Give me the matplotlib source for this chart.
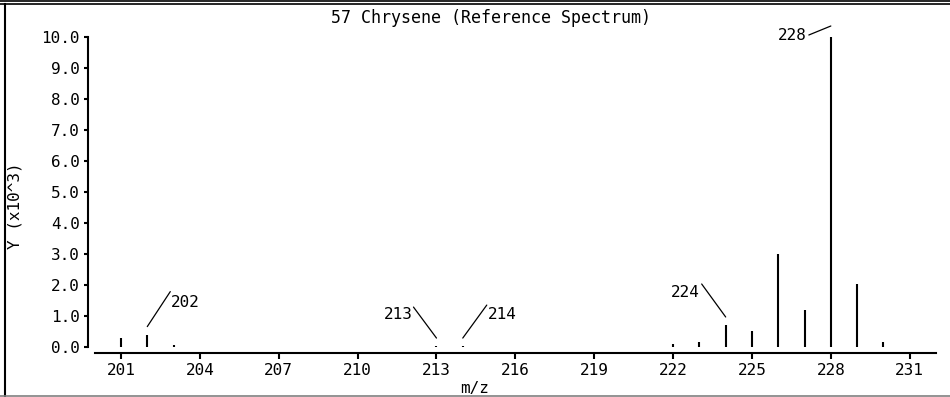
import matplotlib

matplotlib.use("Agg")
import matplotlib.pyplot as plt
from matplotlib.lines import Line2D
from matplotlib.transforms import offset_copy

# %% Data (intensity in units of 10^3)
mz = [201, 202, 203, 213, 214, 222, 223, 224, 225, 226, 227, 228, 229, 230]
intensity = [0.28, 0.40, 0.07, 0.03, 0.03, 0.10, 0.15, 0.71, 0.53, 3.0, 1.19, 10.0, 2.02, 0.15]

labeled_peaks = [202, 213, 214, 224, 228]
x_ticks = [201, 204, 207, 210, 213, 216, 219, 222, 225, 228, 231]
y_ticks = [0, 1, 2, 3, 4, 5, 6, 7, 8, 9, 10]

# label geometry in pixels: (gap above peak, line dx, line dy, text dx, text dy, ha)
label_style = {
    202: (8, 23, 35, 24, 32, "left"),
    213: (8, -23, 31, -24, 32, "right"),
    214: (8, 24, 33, 25, 32, "left"),
    224: (8, -24, 33, -26, 32, "right"),
    228: (11, -22, -9, -24, 1, "right"),
}

# %% Plot
W, H = 950, 397
fig = plt.figure(figsize=(W / 100, H / 100), dpi=100)
plt.rcParams["font.family"] = "DejaVu Sans Mono"

ax = fig.add_axes([94.7 / W, 50 / H, (936 - 94.7) / W, 310 / H])
ax.vlines(mz, 0, intensity, color="black", lw=1.5)
ax.set_xlim(200, 232)
ax.set_ylim(0, 10)

for s in ["top", "right"]:
    ax.spines[s].set_visible(False)
ax.spines["left"].set_position(("outward", 4.7))
ax.spines["bottom"].set_position(("outward", 4.3))
ax.spines["left"].set_bounds(0, 10)
for s in ["left", "bottom"]:
    ax.spines[s].set_linewidth(1.5)

ax.set_xticks(x_ticks)
ax.set_xticklabels([str(t) for t in x_ticks])
ax.set_yticks(y_ticks)
ax.set_yticklabels([f"{t:.1f}" for t in y_ticks])
ax.tick_params(axis="y", direction="out", length=3, width=1.5, pad=3, labelsize=11.5)
ax.tick_params(axis="x", direction="out", length=4, width=1.5, pad=3, labelsize=11.5)

for m in labeled_peaks:
    h = intensity[mz.index(m)]
    gap, ldx, ldy, tdx, tdy, ha = label_style[m]
    start = offset_copy(ax.transData, fig=fig, x=0, y=gap, units="dots")
    end = offset_copy(ax.transData, fig=fig, x=ldx, y=gap + ldy, units="dots")
    ax.annotate(
        "", xy=(m, h), xycoords=start, xytext=(m, h), textcoords=end,
        arrowprops=dict(arrowstyle="-", lw=0.9, color="black", shrinkA=0, shrinkB=0),
    )
    ax.annotate(
        str(m), xy=(m, h), xytext=(tdx, tdy), textcoords="offset pixels",
        ha=ha, va="center", fontsize=11.5,
    )

fig.text(491 / W, 1 - 18 / H, "57 Chrysene (Reference Spectrum)",
         ha="center", va="center", fontsize=12)
fig.text(15 / W, 1 - 206 / H, "Y (x10^3)", rotation=90,
         ha="center", va="center", fontsize=11.5)
fig.text(475 / W, 1 - 388 / H, "m/z", ha="center", va="center", fontsize=11.5)

# window frame
fig.add_artist(Line2D([0, 1], [1 - 0.8 / H, 1 - 0.8 / H], color="black", lw=1.2))
fig.add_artist(Line2D([0, 1], [1 - 4 / H, 1 - 4 / H], color="black", lw=1.2))
fig.add_artist(Line2D([4.8 / W, 4.8 / W], [0, 1 - 4 / H], color="black", lw=1.5))
fig.add_artist(Line2D([0, 1], [1.5 / H, 1.5 / H], color="gray", lw=1.2))

plt.savefig("out.png", dpi=100)
plt.close()
